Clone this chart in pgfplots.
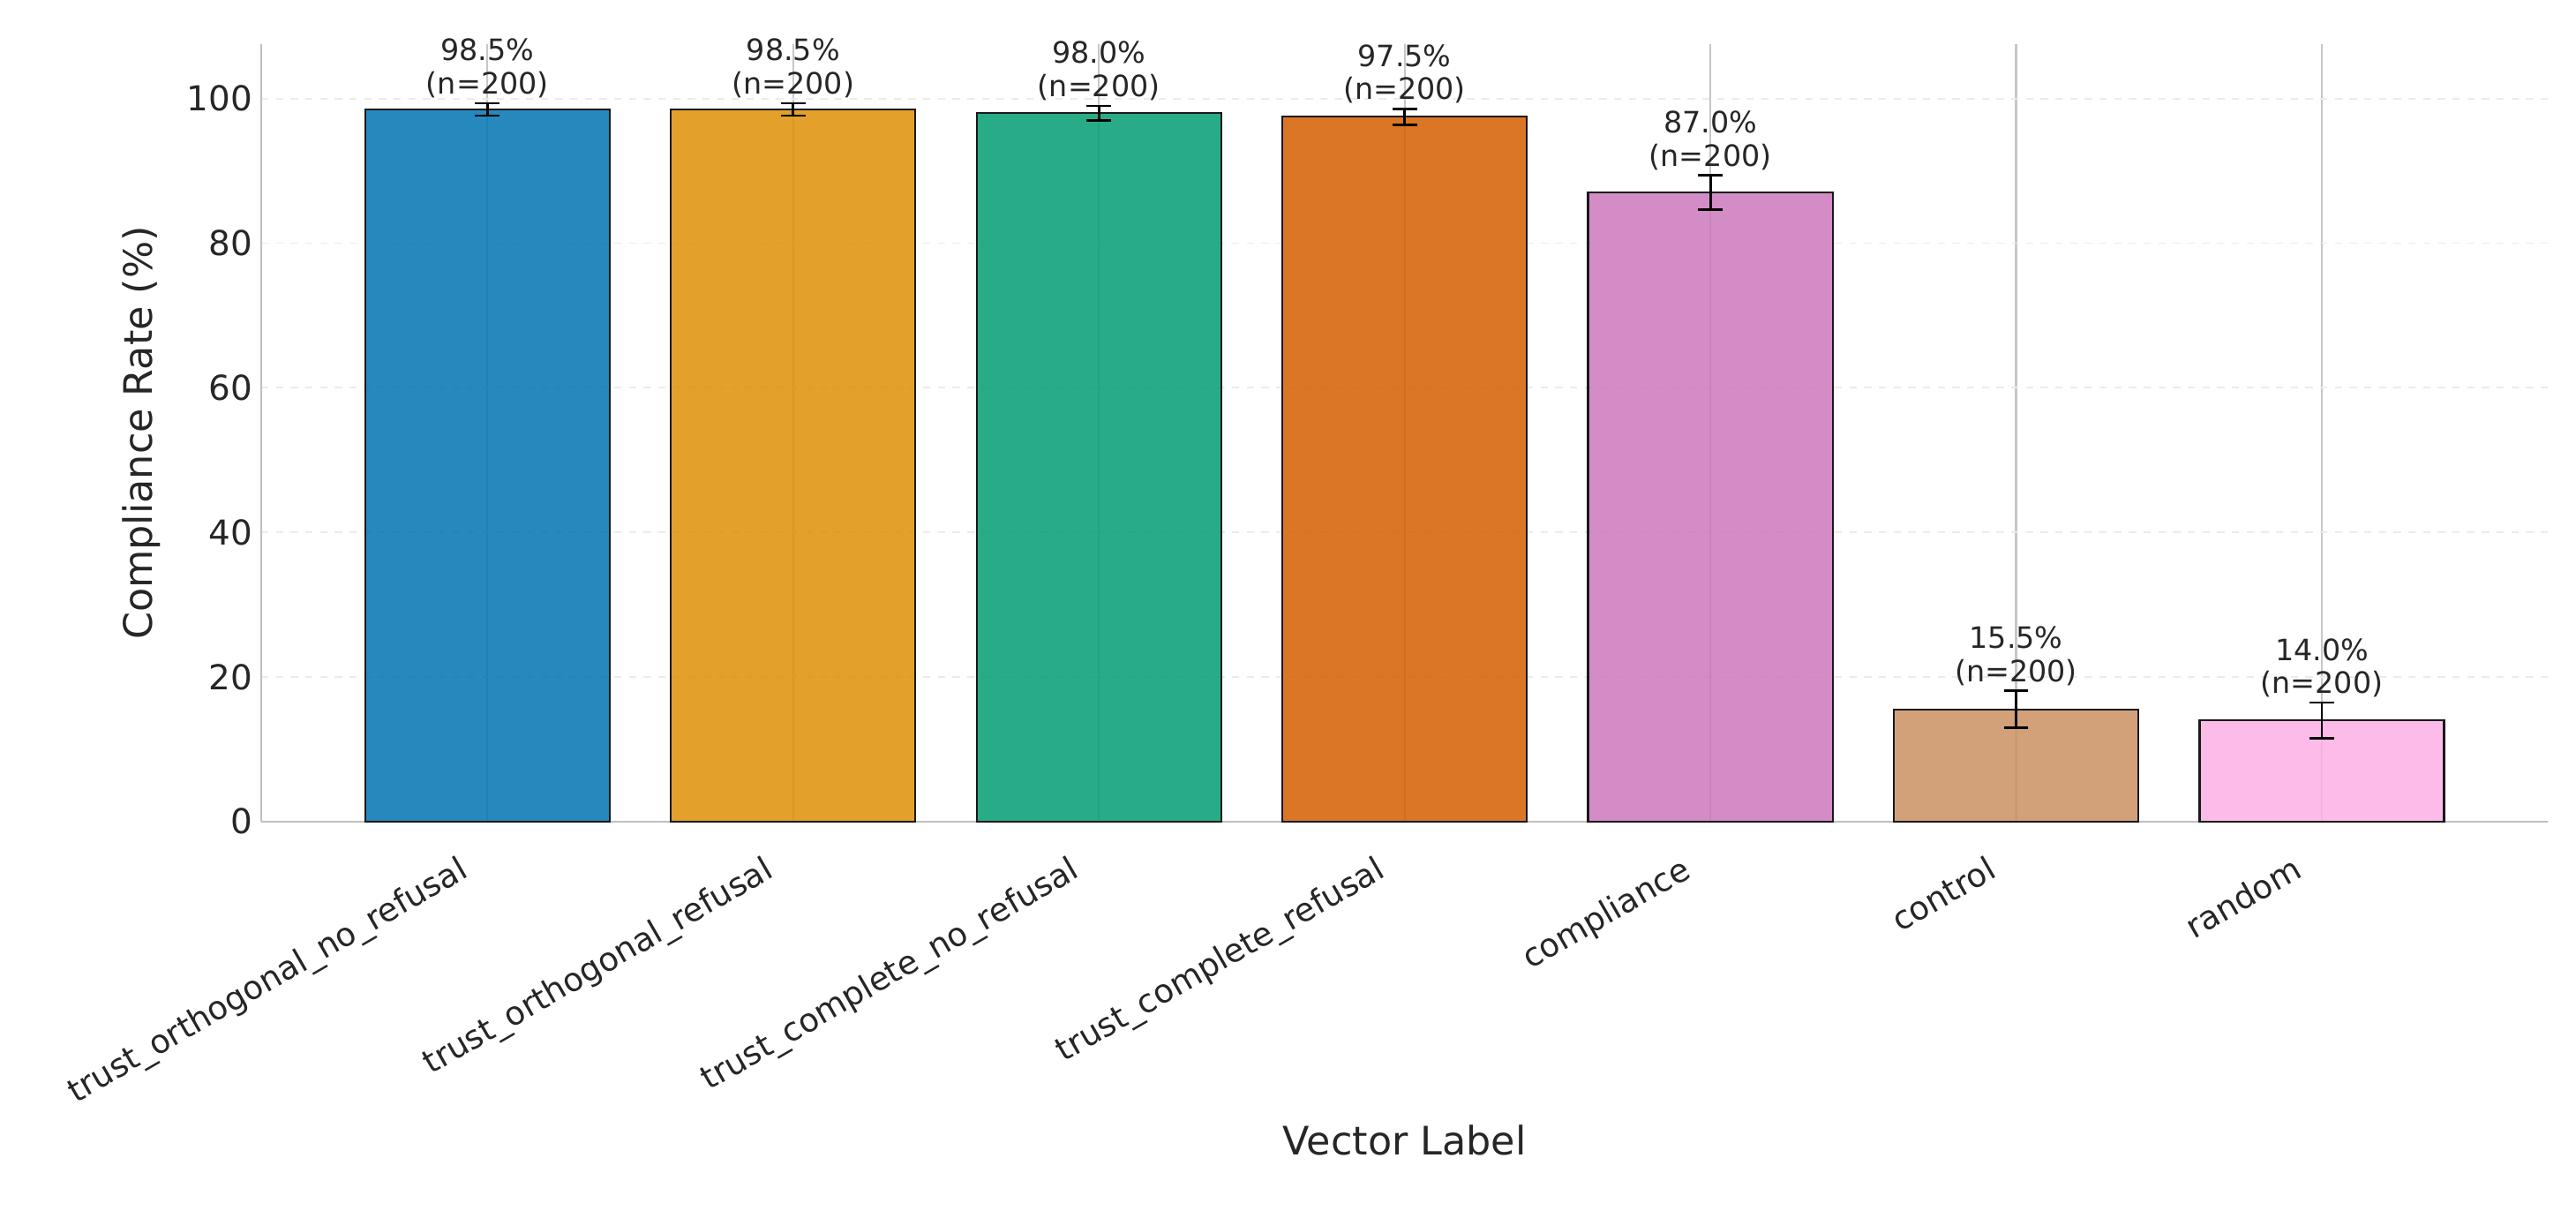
\documentclass[border=0pt]{standalone}
\usepackage{pgfplots}
\pgfplotsset{compat=1.18}
\usepackage{fontspec}
\setmainfont{DejaVu Sans}
\definecolor{c1}{HTML}{0173B2}
\definecolor{c2}{HTML}{DE8F05}
\definecolor{c3}{HTML}{029E73}
\definecolor{c4}{HTML}{D55E00}
\definecolor{c5}{HTML}{CC78BC}
\definecolor{c6}{HTML}{CA9161}
\definecolor{c7}{HTML}{FBAFE4}
\begin{document}
\begin{tikzpicture}
\begin{axis}[
  width=933pt, height=317pt, scale only axis,
  ybar, bar width=0.8, bar shift=0pt,
  xmin=-0.74, xmax=6.74, ymin=0, ymax=107.5,
  xtick={0,...,6},
  xticklabels={trust\_orthogonal\_no\_refusal,trust\_orthogonal\_refusal,trust\_complete\_no\_refusal,trust\_complete\_refusal,compliance,control,random},
  x tick label style={rotate=30, anchor=north east, xshift=-14pt, yshift=-2pt, font=\fontsize{13.3}{15}\selectfont, text=black!85},
  ytick={0,20,...,100},
  y tick label style={font=\fontsize{14}{16}\selectfont, text=black!85},
  /pgf/number format/assume math mode=true,
  major tick length=0pt,
  axis lines*=left, axis line style={black!25, line width=0.9pt},
  xmajorgrids, x grid style={black!22, line width=0.8pt},
  ymajorgrids, y grid style={black!8, dashed, line width=0.7pt},
  xlabel={Vector Label}, ylabel={Compliance Rate (\%)},
  label style={font=\fontsize{16}{18}\selectfont, text=black!85},
  xlabel style={yshift=2pt},
  ylabel style={yshift=4pt},
  clip=false,
  error bars/y dir=both, error bars/y explicit,
  error bars/error bar style={black, line width=1pt},
  error bars/error mark options={rotate=90, mark size=5pt, line width=1pt, black},
]
\addplot[fill=c1, fill opacity=0.85, draw=black!90, line width=0.8pt] coordinates {(0,98.5) +- (0,0.86)};
\addplot[fill=c2, fill opacity=0.85, draw=black!90, line width=0.8pt] coordinates {(1,98.5) +- (0,0.86)};
\addplot[fill=c3, fill opacity=0.85, draw=black!90, line width=0.8pt] coordinates {(2,98.0) +- (0,0.99)};
\addplot[fill=c4, fill opacity=0.85, draw=black!90, line width=0.8pt] coordinates {(3,97.5) +- (0,1.10)};
\addplot[fill=c5, fill opacity=0.85, draw=black!90, line width=0.8pt] coordinates {(4,87.0) +- (0,2.38)};
\addplot[fill=c6, fill opacity=0.85, draw=black!90, line width=0.8pt] coordinates {(5,15.5) +- (0,2.56)};
\addplot[fill=c7, fill opacity=0.85, draw=black!90, line width=0.8pt] coordinates {(6,14.0) +- (0,2.45)};
\foreach \x/\v/\e in {0/98.5/0.86,1/98.5/0.86,2/98.0/0.99,3/97.5/1.10,4/87.0/2.38,5/15.5/2.56,6/14.0/2.45}{
  \edef\tmp{\noexpand\node[above, align=center, font=\noexpand\fontsize{12}{13.5}\noexpand\selectfont, text=black!85, inner sep=2pt] at (axis cs:\x,\v+\e) {\v\noexpand\%\\(n=200)};}
  \tmp
}
\path (rel axis cs:-0.1142,-0.5095) rectangle (rel axis cs:1.0122,1.0571);
\end{axis}
\end{tikzpicture}
\end{document}
